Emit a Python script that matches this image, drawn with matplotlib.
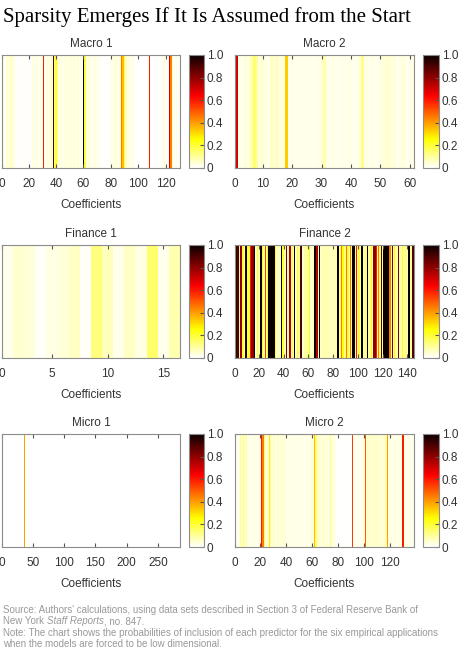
import numpy as np
import matplotlib
matplotlib.use("Agg")
import matplotlib.pyplot as plt

# inclusion probabilities, one value per coefficient (1-based columns)
macro1 = [
    0.01, 0.02, 0.01, 0.04, 0.05, 0.02, 0.06, 0.03, 0.05, 0.02,
    0.00, 0.01, 0.00, 0.00, 0.02, 0.00, 0.00, 0.01, 0.00, 0.01,
    0.01, 0.00, 0.02, 0.04, 0.02, 0.03, 0.01, 0.02, 0.02, 0.03,
    0.60, 0.02, 0.02, 0.04, 0.03, 0.02, 0.05, 0.90, 0.12, 0.22,
    0.08, 0.03, 0.03, 0.05, 0.02, 0.04, 0.03, 0.04, 0.02, 0.03,
    0.04, 0.02, 0.05, 0.03, 0.02, 0.04, 0.02, 0.03, 0.02, 1.00,
    0.20, 0.03, 0.02, 0.04, 0.02, 0.03, 0.02, 0.02, 0.04, 0.02,
    0.02, 0.01, 0.00, 0.00, 0.01, 0.00, 0.00, 0.01, 0.00, 0.02,
    0.03, 0.02, 0.04, 0.03, 0.05, 0.02, 0.07, 0.45, 0.35, 0.20,
    0.05, 0.03, 0.04, 0.02, 0.03, 0.04, 0.02, 0.00, 0.00, 0.00,
    0.00, 0.00, 0.00, 0.00, 0.00, 0.00, 0.01, 0.60, 0.00, 0.00,
    0.00, 0.00, 0.00, 0.00, 0.01, 0.00, 0.02, 0.01, 0.05, 0.02,
    0.01, 0.03, 0.70, 0.45, 0.05, 0.02, 0.01, 0.02, 0.01, 0.01,
]
macro2 = [
    0.70, 0.03, 0.02, 0.04, 0.03, 0.08, 0.15, 0.10, 0.04, 0.05,
    0.03, 0.02, 0.06, 0.05, 0.06, 0.03, 0.04, 0.33, 0.02, 0.03,
    0.02, 0.02, 0.03, 0.02, 0.02, 0.03, 0.02, 0.02, 0.03, 0.04,
    0.08, 0.03, 0.02, 0.03, 0.02, 0.02, 0.03, 0.02, 0.02, 0.03,
    0.02, 0.02, 0.04, 0.12, 0.03, 0.02, 0.03, 0.02, 0.02, 0.03,
    0.04, 0.05, 0.05, 0.03, 0.04, 0.02, 0.03, 0.04, 0.02, 0.02,
    0.03,
]
finance1 = [0.02, 0.05, 0.04, 0.01, 0.03, 0.04, 0.06, 0.01,
            0.13, 0.07, 0.02, 0.06, 0.03, 0.15, 0.02, 0.08]
finance2 = [
    0.15, 0.95, 0.90, 0.10, 0.80, 0.80, 0.20, 0.08, 0.95, 1.00,
    0.20, 0.20, 0.60, 0.80, 0.80, 1.00, 0.05, 0.05, 0.20, 0.10,
    1.00, 1.00, 0.25, 0.08, 0.55, 0.05, 0.25, 1.00, 1.00, 1.00,
    1.00, 1.00, 0.20, 0.05, 0.08, 0.05, 0.08, 1.00, 0.20, 0.20,
    0.08, 0.85, 0.05, 0.10, 0.75, 0.08, 0.20, 0.05, 1.00, 0.05,
    0.20, 0.15, 0.08, 0.90, 0.05, 0.05, 0.10, 0.10, 0.10, 0.05,
    0.25, 0.05, 0.05, 0.08, 1.00, 1.00, 0.75, 0.08, 1.00, 0.05,
    0.08, 0.06, 0.10, 0.06, 0.08, 0.07, 0.09, 0.05, 0.08, 0.06,
    0.08, 0.07, 0.10, 1.00, 0.08, 0.15, 0.45, 0.25, 0.10, 0.15,
    0.45, 0.20, 0.10, 0.45, 0.10, 1.00, 1.00, 0.10, 0.60, 0.08,
    0.20, 0.08, 1.00, 1.00, 0.10, 0.08, 0.15, 1.00, 0.08, 0.10,
    0.25, 0.08, 0.80, 0.80, 0.60, 0.10, 0.45, 0.15, 0.90, 0.10,
    1.00, 1.00, 1.00, 1.00, 1.00, 0.45, 0.10, 0.85, 0.10, 0.25,
    0.08, 0.10, 0.85, 0.08, 0.10, 0.20, 0.08, 0.12, 0.12, 0.08,
    1.00, 1.00, 0.10, 0.90, 0.90,
]
# Micro 1 is almost entirely zero: store the non-zero columns only
micro1_n = 285
micro1_idx = [23, 24, 37, 42, 44, 45]
micro1_val = [0.01, 0.01, 0.40, 0.02, 0.015, 0.02]
micro2 = [
    0.02, 0.01, 0.03, 0.04, 0.10, 0.05, 0.12, 0.06, 0.08, 0.03,
    0.02, 0.02, 0.03, 0.02, 0.04, 0.02, 0.02, 0.03, 0.02, 0.04,
    0.60, 0.45, 0.15, 0.04, 0.02, 0.05, 0.28, 0.10, 0.04, 0.05,
    0.07, 0.03, 0.05, 0.06, 0.03, 0.04, 0.05, 0.03, 0.05, 0.02,
    0.02, 0.03, 0.02, 0.04, 0.02, 0.03, 0.02, 0.02, 0.03, 0.02,
    0.02, 0.02, 0.03, 0.02, 0.02, 0.03, 0.02, 0.02, 0.04, 0.03,
    0.05, 0.35, 0.15, 0.06, 0.04, 0.05, 0.03, 0.05, 0.06, 0.04,
    0.03, 0.05, 0.04, 0.12, 0.05, 0.03, 0.04, 0.02, 0.01, 0.00,
    0.00, 0.01, 0.00, 0.00, 0.01, 0.00, 0.00, 0.01, 0.00, 0.01,
    0.55, 0.01, 0.02, 0.01, 0.02, 0.02, 0.01, 0.02, 0.02, 0.03,
    0.50, 0.05, 0.07, 0.04, 0.06, 0.04, 0.05, 0.07, 0.04, 0.06,
    0.04, 0.05, 0.04, 0.06, 0.04, 0.05, 0.08, 0.40, 0.04, 0.02,
    0.03, 0.02, 0.04, 0.03, 0.02, 0.02, 0.03, 0.02, 0.04, 0.60,
    0.02, 0.03, 0.02, 0.02, 0.03, 0.02, 0.02, 0.02,
]

micro1 = np.zeros(micro1_n)
micro1[np.array(micro1_idx) - 1] = micro1_val

panels = [
    ("Macro 1", macro1, 20),
    ("Macro 2", macro2, 10),
    ("Finance 1", finance1, 5),
    ("Finance 2", finance2, 20),
    ("Micro 1", micro1, 50),
    ("Micro 2", micro2, 20),
]
cbar_ticks = [0, 0.2, 0.4, 0.6, 0.8, 1.0]
cbar_labels = ["0", "0.2", "0.4", "0.6", "0.8", "1.0"]

title = "Sparsity Emerges If It Is Assumed from the Start"
source_1 = "Source: Authors' calculations, using data sets described in Section 3 of Federal Reserve Bank of"
source_2 = ["New York ", "Staff Reports", ", no. 847."]
note_1 = "Note: The chart shows the probabilities of inclusion of each predictor for the six empirical applications"
note_2 = "when the models are forced to be low dimensional."

plt.rcParams['font.family'] = ['Liberation Sans', 'DejaVu Sans']

W, H = 460, 659
fig = plt.figure(figsize=(W / 100, H / 100), dpi=100)

# pixel boxes (top, bottom) per row and (left, right) for heatmap / colorbar per column
row_tb = [(55, 168), (245, 358), (434, 547)]
col_lr = [((2, 180), (189, 204)), ((235, 414), (423, 439))]

grid = '#8c8c8c'
txt = '#333333'
foot = '#999999'


def frac(l, r, t, b):
    return [l / W, 1 - b / H, (r - l) / W, (b - t) / H]


for i, (name, vals, step) in enumerate(panels):
    t, b = row_tb[i // 2]
    (l, r), (cl, cr) = col_lr[i % 2]
    ax = fig.add_axes(frac(l, r, t, b))
    cax = fig.add_axes(frac(cl, cr, t, b))
    vals = np.asarray(vals, dtype=float)
    n = len(vals)
    xedges = np.arange(n + 1) + 0.5
    mesh = ax.pcolormesh(xedges, [0, 1], vals[np.newaxis, :], cmap='hot_r',
                         vmin=0, vmax=1, shading='flat', antialiased=False,
                         edgecolors='none')
    ax.set_xlim(0.5, n + 0.5)
    ax.set_ylim(0, 1)
    ticks = [0.5] + list(range(step, n + 1, step))
    ax.set_xticks(ticks)
    ax.set_xticklabels(["0"] + [str(v) for v in ticks[1:]])
    ax.set_yticks([])
    ax.tick_params(axis='x', direction='in', length=3, width=0.8, color='#555555',
                   top=True, labelsize=8.5, labelcolor=txt, pad=7)
    for s in ax.spines.values():
        s.set_color(grid)
        s.set_linewidth(0.8)
    ax.set_title(name, fontsize=8.5, color=txt, pad=6)
    ax.set_xlabel("Coefficients", fontsize=8.5, color=txt, labelpad=7)

    cb = fig.colorbar(mesh, cax=cax, ticks=cbar_ticks)
    cb.ax.set_yticklabels(cbar_labels)
    cb.ax.tick_params(direction='in', length=3, width=0.8, color='#555555',
                      labelsize=8.5, labelcolor=txt, pad=2)
    cb.outline.set_edgecolor(grid)
    cb.outline.set_linewidth(0.8)

fig.text(3 / W, 1 - 17 / H, title, fontsize=15, family='Liberation Serif',
         color='black', va='center', ha='left')

fs = 7
fig.text(3 / W, 1 - 610 / H, source_1, fontsize=fs, color=foot, va='center', ha='left')
fig.text(3 / W, 1 - 633 / H, note_1, fontsize=fs, color=foot, va='center', ha='left')
fig.text(3 / W, 1 - 644 / H, note_2, fontsize=fs, color=foot, va='center', ha='left')

# second source line mixes upright and italic text
renderer = fig.canvas.get_renderer()
x = 3
for k, piece in enumerate(source_2):
    t = fig.text(x / W, 1 - 621 / H, piece, fontsize=fs, color=foot, va='center',
                 ha='left', style='italic' if k == 1 else 'normal')
    x += t.get_window_extent(renderer).width

fig.savefig('out.png', dpi=100)
